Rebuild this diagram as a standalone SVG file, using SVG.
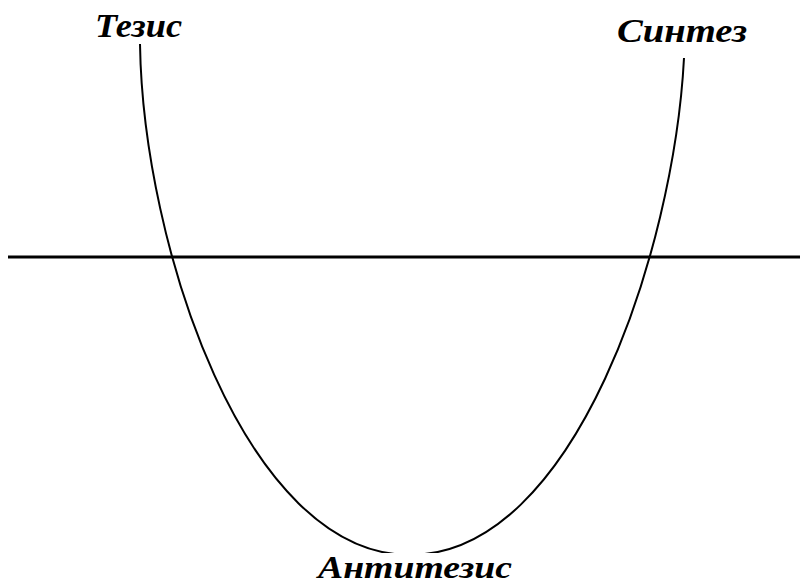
<svg xmlns="http://www.w3.org/2000/svg" width="800" height="585" viewBox="0 0 800 585">
<style>
.lbl{font-family:"Liberation Serif","Times New Roman",serif;font-weight:bold;font-style:italic;fill:#000}
.ln{fill:none;stroke:#000}
</style>
<rect width="800" height="585" fill="#fff"/>
<g id="connectors">
<line class="ln" x1="8" y1="257" x2="800" y2="257" stroke-width="3"/>
<path class="ln" stroke-width="2" d="M140,44 C143,245 245,555 410,555 C575,555 674,250 684,58"/>
</g>
<g id="thesis">
<text class="lbl" x="95" y="37" font-size="34" textLength="87" lengthAdjust="spacingAndGlyphs">Тезис</text>
</g>
<g id="synthesis">
<text class="lbl" x="617" y="42" font-size="34" textLength="130" lengthAdjust="spacingAndGlyphs">Синтез</text>
</g>
<g id="antithesis">
<rect x="303" y="553" width="220" height="32" fill="#fff"/>
<text class="lbl" x="318" y="578" font-size="32" textLength="194" lengthAdjust="spacingAndGlyphs">Антитезис</text>
</g>
</svg>
